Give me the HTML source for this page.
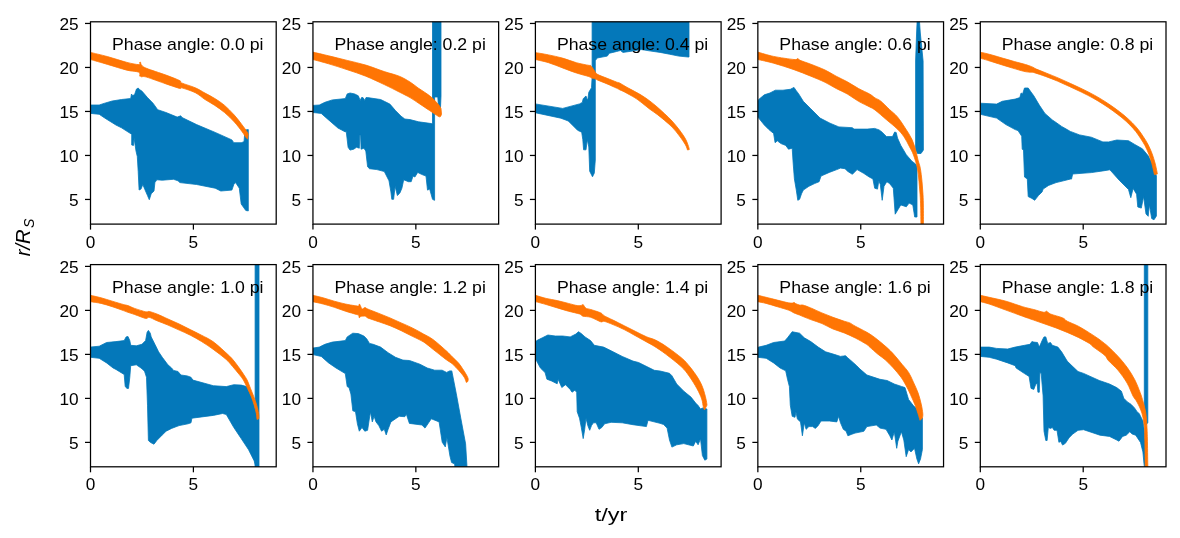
<!DOCTYPE html>
<html><head><meta charset="utf-8"><style>html,body{margin:0;padding:0;background:#fff;width:1180px;height:538px;overflow:hidden;position:relative}</style></head>
<body>
<svg width="1180" height="538" viewBox="0 0 1180 538" style="position:absolute;left:0;top:0;filter:blur(0.35px)">
<rect width="1180" height="538" fill="#fff"/>
<clipPath id="cp0"><rect x="90.50" y="21.80" width="185.70" height="202.30"/></clipPath>
<g clip-path="url(#cp0)">
<polygon points="90.5,105.0 99.2,105.0 104.7,103.2 112.2,101.0 121.5,99.5 130.7,98.5 131.5,94.0 132.5,95.5 134.5,94.8 136.5,89.0 138.2,88.0 139.5,89.5 141.9,91.1 147.5,97.6 153.0,103.2 157.7,109.7 166.0,112.5 177.2,117.1 180.8,115.8 182.0,117.5 196.6,124.6 215.2,132.4 231.9,139.9 233.8,142.7 241.2,142.7 244.0,141.7 245.0,130.0 248.3,129.6 248.3,210.9 245.8,210.5 241.2,204.0 239.3,188.2 235.6,182.6 233.8,184.5 231.9,190.1 220.8,191.0 215.2,188.2 196.6,184.5 179.9,182.6 178.0,180.8 173.5,179.3 162.3,180.2 156.8,179.8 154.9,182.6 154.0,191.0 151.2,193.8 149.3,199.7 147.5,195.6 144.7,189.1 142.8,184.5 141.0,189.1 139.1,190.0 138.2,171.5 137.3,156.6 136.0,151.0 134.1,138.0 133.5,145.4 131.7,145.0 131.7,134.3 121.5,127.8 115.9,125.0 104.7,118.0 99.2,114.3 90.5,113.4" fill="#0478ba" stroke="#0478ba" stroke-width="0.8" stroke-linejoin="round"/>
<path d="M90.50,52.40 C93.33,53.10 101.42,54.93 107.50,56.60 C113.58,58.27 121.78,61.07 127.00,62.40 C132.22,63.73 136.68,64.60 138.80,64.60 C140.92,64.60 139.40,62.77 139.70,62.40 C140.00,62.03 140.30,61.97 140.60,62.40 C140.90,62.83 140.52,64.02 141.50,65.00 C142.48,65.98 142.42,66.62 146.50,68.30 C150.58,69.98 160.47,73.05 166.00,75.10 C171.53,77.15 177.10,79.30 179.70,80.60 C182.30,81.90 179.00,81.70 181.60,82.90 C184.20,84.10 191.40,86.10 195.30,87.80 C199.20,89.50 201.75,91.32 205.00,93.10 C208.25,94.88 211.53,96.45 214.80,98.50 C218.07,100.55 221.35,102.63 224.60,105.40 C227.85,108.17 231.38,111.85 234.30,115.10 C237.22,118.35 239.98,122.13 242.10,124.90 C244.22,127.67 245.98,130.18 247.00,131.70 C248.02,133.22 248.00,133.62 248.20,134.00 L247.50,139.00 C247.25,138.75 246.90,138.72 246.00,137.50 C245.10,136.28 244.05,134.30 242.10,131.70 C240.15,129.10 237.22,125.08 234.30,121.90 C231.38,118.72 227.85,115.35 224.60,112.60 C221.35,109.85 218.07,107.58 214.80,105.40 C211.53,103.22 208.25,101.62 205.00,99.50 C201.75,97.38 199.20,94.65 195.30,92.70 C191.40,90.75 184.20,88.52 181.60,87.80 C179.00,87.08 182.30,89.05 179.70,88.40 C177.10,87.75 171.53,85.78 166.00,83.90 C160.47,82.02 150.58,78.28 146.50,77.10 C142.42,75.92 142.48,76.97 141.50,76.80 C140.52,76.63 140.90,76.22 140.60,76.10 C140.30,75.98 140.00,76.75 139.70,76.10 C139.40,75.45 140.92,73.18 138.80,72.20 C136.68,71.22 132.22,71.50 127.00,70.20 C121.78,68.90 113.58,66.18 107.50,64.40 C101.42,62.62 93.33,60.32 90.50,59.50 Z" fill="#ff7504" stroke="#ff7504" stroke-width="0.8" stroke-linejoin="round"/>
</g>
<rect x="90.50" y="21.80" width="185.70" height="202.30" fill="none" stroke="#000" stroke-width="1.25" stroke-linejoin="miter" stroke-linecap="square"/>
<line x1="85.00" y1="199.45" x2="90.50" y2="199.45" stroke="#000" stroke-width="1.25"/>
<text x="78.60" y="205.75" text-anchor="end" font-size="15.7" font-family='"Liberation Sans", sans-serif' fill="#000" textLength="9.60" lengthAdjust="spacingAndGlyphs">5</text>
<line x1="85.00" y1="155.45" x2="90.50" y2="155.45" stroke="#000" stroke-width="1.25"/>
<text x="78.60" y="161.75" text-anchor="end" font-size="15.7" font-family='"Liberation Sans", sans-serif' fill="#000" textLength="19.20" lengthAdjust="spacingAndGlyphs">10</text>
<line x1="85.00" y1="111.45" x2="90.50" y2="111.45" stroke="#000" stroke-width="1.25"/>
<text x="78.60" y="117.75" text-anchor="end" font-size="15.7" font-family='"Liberation Sans", sans-serif' fill="#000" textLength="19.20" lengthAdjust="spacingAndGlyphs">15</text>
<line x1="85.00" y1="67.45" x2="90.50" y2="67.45" stroke="#000" stroke-width="1.25"/>
<text x="78.60" y="73.75" text-anchor="end" font-size="15.7" font-family='"Liberation Sans", sans-serif' fill="#000" textLength="19.20" lengthAdjust="spacingAndGlyphs">20</text>
<line x1="85.00" y1="23.45" x2="90.50" y2="23.45" stroke="#000" stroke-width="1.25"/>
<text x="78.60" y="29.75" text-anchor="end" font-size="15.7" font-family='"Liberation Sans", sans-serif' fill="#000" textLength="19.20" lengthAdjust="spacingAndGlyphs">25</text>
<line x1="90.50" y1="224.10" x2="90.50" y2="229.60" stroke="#000" stroke-width="1.25"/>
<text x="90.50" y="247.70" text-anchor="middle" font-size="15.7" font-family='"Liberation Sans", sans-serif' fill="#000" textLength="9.6" lengthAdjust="spacingAndGlyphs">0</text>
<line x1="193.40" y1="224.10" x2="193.40" y2="229.60" stroke="#000" stroke-width="1.25"/>
<text x="193.40" y="247.70" text-anchor="middle" font-size="15.7" font-family='"Liberation Sans", sans-serif' fill="#000" textLength="9.6" lengthAdjust="spacingAndGlyphs">5</text>
<text x="112.00" y="49.70" font-size="15.7" font-family='"Liberation Sans", sans-serif' fill="#000" textLength="151.4" lengthAdjust="spacingAndGlyphs">Phase angle: 0.0 pi</text>
<clipPath id="cp1"><rect x="312.95" y="21.80" width="185.70" height="202.30"/></clipPath>
<g clip-path="url(#cp1)">
<polygon points="312.9,105.4 319.3,105.0 324.9,102.3 332.3,99.9 345.3,98.6 347.2,93.9 350.0,93.0 354.6,93.9 358.3,95.8 360.2,100.4 361.5,97.6 363.0,97.6 364.8,100.4 366.0,97.6 367.6,97.6 380.6,99.5 384.3,101.3 389.9,104.1 395.5,110.6 401.1,116.2 404.8,119.0 410.0,119.6 418.6,121.8 431.6,123.6 432.5,123.6 432.5,15.0 441.0,15.0 441.0,96.0 440.5,107.5 438.5,107.5 437.8,97.0 434.6,97.0 434.6,200.3 434.4,200.3 432.5,199.3 429.7,189.1 427.5,190.1 426.0,176.1 421.4,174.3 417.7,172.4 414.9,177.0 413.0,176.1 411.2,181.7 408.4,181.7 403.7,179.8 401.9,188.2 400.0,192.8 399.2,193.8 397.4,195.6 395.1,186.3 393.6,199.3 391.8,199.3 390.9,191.9 389.0,180.8 387.1,177.0 384.3,171.5 376.9,169.6 369.5,168.7 367.6,166.8 365.8,151.0 363.9,148.2 361.1,149.2 360.6,135.2 359.8,135.2 359.3,148.2 356.5,147.3 353.7,149.2 350.0,150.1 348.1,147.3 346.2,131.0 345.5,132.0 337.9,128.0 328.6,119.9 321.2,113.4 312.9,112.5" fill="#0478ba" stroke="#0478ba" stroke-width="0.8" stroke-linejoin="round"/>
<path d="M312.90,52.10 C315.52,52.72 322.88,54.42 328.60,55.80 C334.32,57.18 341.00,58.85 347.20,60.40 C353.40,61.95 359.62,63.23 365.80,65.10 C371.98,66.97 378.73,69.75 384.30,71.60 C389.87,73.45 394.92,74.47 399.20,76.20 C403.48,77.93 406.77,79.98 410.00,82.00 C413.23,84.02 415.32,86.00 418.60,88.30 C421.88,90.60 426.45,93.17 429.70,95.80 C432.95,98.43 436.22,101.98 438.10,104.10 C439.98,106.22 440.52,107.77 441.00,108.50 L441.50,114.00 C441.33,114.42 441.07,116.13 440.50,116.50 C439.93,116.87 439.90,117.18 438.10,116.20 C436.30,115.22 432.95,112.77 429.70,110.60 C426.45,108.43 421.88,105.37 418.60,103.20 C415.32,101.03 413.23,99.47 410.00,97.60 C406.77,95.73 403.48,94.17 399.20,92.00 C394.92,89.83 389.87,87.23 384.30,84.60 C378.73,81.97 371.98,78.68 365.80,76.20 C359.62,73.72 353.40,71.77 347.20,69.70 C341.00,67.63 334.32,65.50 328.60,63.80 C322.88,62.10 315.52,60.22 312.90,59.50 Z" fill="#ff7504" stroke="#ff7504" stroke-width="0.8" stroke-linejoin="round"/>
</g>
<rect x="312.95" y="21.80" width="185.70" height="202.30" fill="none" stroke="#000" stroke-width="1.25" stroke-linejoin="miter" stroke-linecap="square"/>
<line x1="307.45" y1="199.45" x2="312.95" y2="199.45" stroke="#000" stroke-width="1.25"/>
<text x="301.05" y="205.75" text-anchor="end" font-size="15.7" font-family='"Liberation Sans", sans-serif' fill="#000" textLength="9.60" lengthAdjust="spacingAndGlyphs">5</text>
<line x1="307.45" y1="155.45" x2="312.95" y2="155.45" stroke="#000" stroke-width="1.25"/>
<text x="301.05" y="161.75" text-anchor="end" font-size="15.7" font-family='"Liberation Sans", sans-serif' fill="#000" textLength="19.20" lengthAdjust="spacingAndGlyphs">10</text>
<line x1="307.45" y1="111.45" x2="312.95" y2="111.45" stroke="#000" stroke-width="1.25"/>
<text x="301.05" y="117.75" text-anchor="end" font-size="15.7" font-family='"Liberation Sans", sans-serif' fill="#000" textLength="19.20" lengthAdjust="spacingAndGlyphs">15</text>
<line x1="307.45" y1="67.45" x2="312.95" y2="67.45" stroke="#000" stroke-width="1.25"/>
<text x="301.05" y="73.75" text-anchor="end" font-size="15.7" font-family='"Liberation Sans", sans-serif' fill="#000" textLength="19.20" lengthAdjust="spacingAndGlyphs">20</text>
<line x1="307.45" y1="23.45" x2="312.95" y2="23.45" stroke="#000" stroke-width="1.25"/>
<text x="301.05" y="29.75" text-anchor="end" font-size="15.7" font-family='"Liberation Sans", sans-serif' fill="#000" textLength="19.20" lengthAdjust="spacingAndGlyphs">25</text>
<line x1="312.95" y1="224.10" x2="312.95" y2="229.60" stroke="#000" stroke-width="1.25"/>
<text x="312.95" y="247.70" text-anchor="middle" font-size="15.7" font-family='"Liberation Sans", sans-serif' fill="#000" textLength="9.6" lengthAdjust="spacingAndGlyphs">0</text>
<line x1="415.85" y1="224.10" x2="415.85" y2="229.60" stroke="#000" stroke-width="1.25"/>
<text x="415.85" y="247.70" text-anchor="middle" font-size="15.7" font-family='"Liberation Sans", sans-serif' fill="#000" textLength="9.6" lengthAdjust="spacingAndGlyphs">5</text>
<text x="334.45" y="49.70" font-size="15.7" font-family='"Liberation Sans", sans-serif' fill="#000" textLength="151.4" lengthAdjust="spacingAndGlyphs">Phase angle: 0.2 pi</text>
<clipPath id="cp2"><rect x="535.40" y="21.80" width="185.70" height="202.30"/></clipPath>
<g clip-path="url(#cp2)">
<polygon points="535.2,103.9 562.7,108.4 579.5,103.9 582.3,102.4 583.2,98.7 585.0,96.9 586.0,96.0 586.9,98.7 587.8,99.8 588.8,92.3 591.5,87.7 592.1,77.5 592.1,15.0 689.0,15.0 689.0,57.0 688.1,57.0 678.8,56.1 669.5,54.2 660.2,52.4 650.9,51.1 641.6,49.6 632.3,51.1 623.0,52.4 620.4,50.5 616.6,51.5 612.9,52.4 609.2,53.3 607.3,56.1 597.1,58.0 595.3,60.7 595.3,160.0 594.3,173.1 592.5,176.8 589.7,171.2 588.8,147.0 587.3,139.6 586.0,149.8 583.6,149.8 582.8,139.6 581.7,132.2 577.6,130.3 568.3,121.0 560.9,118.2 535.2,112.7" fill="#0478ba" stroke="#0478ba" stroke-width="0.8" stroke-linejoin="round"/>
<path d="M535.20,52.50 C537.43,52.90 544.05,53.97 548.60,54.90 C553.15,55.83 557.87,56.80 562.50,58.10 C567.13,59.40 572.05,61.50 576.40,62.70 C580.75,63.90 586.27,64.87 588.60,65.30 C590.93,65.73 589.67,64.77 590.40,65.30 C591.13,65.83 592.22,67.42 593.00,68.50 C593.78,69.58 594.28,70.78 595.10,71.80 C595.92,72.82 595.90,73.52 597.90,74.60 C599.90,75.68 604.02,77.07 607.10,78.30 C610.18,79.53 614.25,81.18 616.40,82.00 C618.55,82.82 618.40,82.40 620.00,83.20 C621.60,84.00 623.52,85.40 626.00,86.80 C628.48,88.20 632.18,90.10 634.90,91.60 C637.62,93.10 639.82,94.23 642.30,95.80 C644.78,97.37 647.32,99.13 649.80,101.00 C652.28,102.87 654.73,104.88 657.20,107.00 C659.67,109.12 662.12,111.35 664.60,113.70 C667.08,116.05 669.62,118.37 672.10,121.10 C674.58,123.83 677.27,127.12 679.50,130.10 C681.73,133.08 684.00,136.28 685.50,139.00 C687.00,141.72 687.87,144.65 688.50,146.40 C689.13,148.15 689.17,148.98 689.30,149.50 L687.50,150.00 C687.17,149.15 686.83,147.23 685.50,144.90 C684.17,142.57 681.73,138.97 679.50,136.00 C677.27,133.03 674.58,129.70 672.10,127.10 C669.62,124.50 667.08,122.52 664.60,120.40 C662.12,118.28 659.67,116.27 657.20,114.40 C654.73,112.53 652.28,111.07 649.80,109.20 C647.32,107.33 644.78,105.10 642.30,103.20 C639.82,101.30 637.87,99.67 634.90,97.80 C631.93,95.93 626.98,93.32 624.50,92.00 C622.02,90.68 621.35,90.55 620.00,89.90 C618.65,89.25 618.55,89.10 616.40,88.10 C614.25,87.10 610.18,85.22 607.10,83.90 C604.02,82.58 599.90,81.05 597.90,80.20 C595.90,79.35 596.03,79.12 595.10,78.80 C594.17,78.48 593.38,78.68 592.30,78.30 C591.22,77.92 591.25,77.38 588.60,76.50 C585.95,75.62 580.75,74.43 576.40,73.00 C572.05,71.57 567.13,69.62 562.50,67.90 C557.87,66.18 553.15,64.10 548.60,62.70 C544.05,61.30 537.43,60.03 535.20,59.50 Z" fill="#ff7504" stroke="#ff7504" stroke-width="0.8" stroke-linejoin="round"/>
</g>
<rect x="535.40" y="21.80" width="185.70" height="202.30" fill="none" stroke="#000" stroke-width="1.25" stroke-linejoin="miter" stroke-linecap="square"/>
<line x1="529.90" y1="199.45" x2="535.40" y2="199.45" stroke="#000" stroke-width="1.25"/>
<text x="523.50" y="205.75" text-anchor="end" font-size="15.7" font-family='"Liberation Sans", sans-serif' fill="#000" textLength="9.60" lengthAdjust="spacingAndGlyphs">5</text>
<line x1="529.90" y1="155.45" x2="535.40" y2="155.45" stroke="#000" stroke-width="1.25"/>
<text x="523.50" y="161.75" text-anchor="end" font-size="15.7" font-family='"Liberation Sans", sans-serif' fill="#000" textLength="19.20" lengthAdjust="spacingAndGlyphs">10</text>
<line x1="529.90" y1="111.45" x2="535.40" y2="111.45" stroke="#000" stroke-width="1.25"/>
<text x="523.50" y="117.75" text-anchor="end" font-size="15.7" font-family='"Liberation Sans", sans-serif' fill="#000" textLength="19.20" lengthAdjust="spacingAndGlyphs">15</text>
<line x1="529.90" y1="67.45" x2="535.40" y2="67.45" stroke="#000" stroke-width="1.25"/>
<text x="523.50" y="73.75" text-anchor="end" font-size="15.7" font-family='"Liberation Sans", sans-serif' fill="#000" textLength="19.20" lengthAdjust="spacingAndGlyphs">20</text>
<line x1="529.90" y1="23.45" x2="535.40" y2="23.45" stroke="#000" stroke-width="1.25"/>
<text x="523.50" y="29.75" text-anchor="end" font-size="15.7" font-family='"Liberation Sans", sans-serif' fill="#000" textLength="19.20" lengthAdjust="spacingAndGlyphs">25</text>
<line x1="535.40" y1="224.10" x2="535.40" y2="229.60" stroke="#000" stroke-width="1.25"/>
<text x="535.40" y="247.70" text-anchor="middle" font-size="15.7" font-family='"Liberation Sans", sans-serif' fill="#000" textLength="9.6" lengthAdjust="spacingAndGlyphs">0</text>
<line x1="638.30" y1="224.10" x2="638.30" y2="229.60" stroke="#000" stroke-width="1.25"/>
<text x="638.30" y="247.70" text-anchor="middle" font-size="15.7" font-family='"Liberation Sans", sans-serif' fill="#000" textLength="9.6" lengthAdjust="spacingAndGlyphs">5</text>
<text x="556.90" y="49.70" font-size="15.7" font-family='"Liberation Sans", sans-serif' fill="#000" textLength="151.4" lengthAdjust="spacingAndGlyphs">Phase angle: 0.4 pi</text>
<clipPath id="cp3"><rect x="757.85" y="21.80" width="185.70" height="202.30"/></clipPath>
<g clip-path="url(#cp3)">
<polygon points="757.9,101.0 758.7,99.5 764.3,94.8 769.9,93.0 775.4,90.2 782.9,90.2 790.3,89.3 794.0,87.4 795.9,90.2 798.7,93.9 803.3,101.3 810.8,108.8 820.1,118.1 830.0,123.2 838.9,126.9 852.3,127.7 854.0,129.1 867.2,129.1 874.6,128.4 879.1,129.9 882.0,132.1 886.5,136.6 892.5,136.6 894.7,132.0 896.2,132.5 897.5,138.0 900.8,145.4 906.3,154.7 911.9,161.2 915.6,164.0 917.0,166.0 917.0,217.0 914.7,217.0 912.8,204.9 909.1,203.1 906.3,206.8 900.8,204.9 898.0,209.6 895.2,214.2 893.3,188.2 889.6,183.6 886.8,181.7 884.0,186.3 882.2,200.3 880.3,184.5 878.8,180.8 877.5,189.1 874.7,188.2 872.9,178.9 869.2,177.0 863.6,173.3 857.1,169.6 852.4,174.3 847.9,171.5 845.0,168.7 840.5,168.1 836.8,169.6 829.3,172.4 821.0,176.1 819.1,181.7 814.5,183.6 808.9,186.3 803.3,190.1 801.5,193.8 799.6,199.3 797.8,200.3 796.3,190.1 794.4,178.9 793.1,162.2 792.2,148.2 788.5,149.2 785.7,145.4 781.0,143.6 777.3,140.8 775.1,142.7 773.6,133.4 768.9,129.6 764.3,125.0 758.7,118.1 757.9,117.0" fill="#0478ba" stroke="#0478ba" stroke-width="0.8" stroke-linejoin="round"/>
<polygon points="917.1,15.0 919.3,15.0 919.5,21.8 920.3,33.0 923.1,61.0 923.4,150.0 921.0,153.5 917.5,153.5 915.6,150.0 915.6,61.0 916.6,33.0 917.1,21.8" fill="#0478ba" stroke="#0478ba" stroke-width="0.8" stroke-linejoin="round"/>
<path d="M757.85,52.10 C760.48,52.82 767.58,55.17 773.60,56.40 C779.62,57.63 789.97,59.13 794.00,59.50 C798.03,59.87 796.80,58.47 797.80,58.60 C798.80,58.73 797.83,59.37 800.00,60.30 C802.17,61.23 806.63,62.58 810.80,64.20 C814.97,65.82 820.77,68.00 825.00,70.00 C829.23,72.00 832.48,74.23 836.20,76.20 C839.92,78.17 843.58,79.75 847.30,81.80 C851.02,83.85 854.78,86.47 858.50,88.50 C862.22,90.53 866.85,92.43 869.60,94.00 C872.35,95.57 873.17,96.73 875.00,97.90 C876.83,99.07 878.18,99.07 880.60,101.00 C883.02,102.93 886.72,106.88 889.50,109.50 C892.28,112.12 894.70,113.63 897.30,116.70 C899.90,119.77 902.68,124.17 905.10,127.90 C907.52,131.63 910.03,135.38 911.80,139.10 C913.57,142.82 914.67,146.72 915.70,150.20 C916.73,153.68 917.23,157.00 918.00,160.00 C918.77,163.00 919.63,164.63 920.30,168.20 C920.97,171.77 921.55,177.00 922.00,181.40 C922.45,185.80 922.77,190.20 923.00,194.60 C923.23,199.00 923.33,201.90 923.40,207.80 C923.47,213.70 923.40,226.30 923.40,230.00 L921.00,230.00 C920.95,226.30 920.85,213.70 920.70,207.80 C920.55,201.90 920.38,199.00 920.10,194.60 C919.82,190.20 919.45,185.80 919.00,181.40 C918.55,177.00 918.32,172.60 917.40,168.20 C916.48,163.80 914.80,158.55 913.50,155.00 C912.20,151.45 911.18,149.93 909.60,146.90 C908.02,143.87 906.05,139.78 904.00,136.80 C901.95,133.82 900.27,131.88 897.30,129.00 C894.33,126.12 889.92,122.67 886.20,119.50 C882.48,116.33 877.77,112.10 875.00,110.00 C872.23,107.90 872.35,108.35 869.60,106.90 C866.85,105.45 862.22,103.45 858.50,101.30 C854.78,99.15 851.02,96.13 847.30,94.00 C843.58,91.87 839.92,90.45 836.20,88.50 C832.48,86.55 829.23,84.35 825.00,82.30 C820.77,80.25 815.97,78.30 810.80,76.20 C805.63,74.10 800.20,71.87 794.00,69.70 C787.80,67.53 779.62,64.90 773.60,63.20 C767.58,61.50 760.48,60.12 757.85,59.50 Z" fill="#ff7504" stroke="#ff7504" stroke-width="0.8" stroke-linejoin="round"/>
</g>
<rect x="757.85" y="21.80" width="185.70" height="202.30" fill="none" stroke="#000" stroke-width="1.25" stroke-linejoin="miter" stroke-linecap="square"/>
<line x1="752.35" y1="199.45" x2="757.85" y2="199.45" stroke="#000" stroke-width="1.25"/>
<text x="745.95" y="205.75" text-anchor="end" font-size="15.7" font-family='"Liberation Sans", sans-serif' fill="#000" textLength="9.60" lengthAdjust="spacingAndGlyphs">5</text>
<line x1="752.35" y1="155.45" x2="757.85" y2="155.45" stroke="#000" stroke-width="1.25"/>
<text x="745.95" y="161.75" text-anchor="end" font-size="15.7" font-family='"Liberation Sans", sans-serif' fill="#000" textLength="19.20" lengthAdjust="spacingAndGlyphs">10</text>
<line x1="752.35" y1="111.45" x2="757.85" y2="111.45" stroke="#000" stroke-width="1.25"/>
<text x="745.95" y="117.75" text-anchor="end" font-size="15.7" font-family='"Liberation Sans", sans-serif' fill="#000" textLength="19.20" lengthAdjust="spacingAndGlyphs">15</text>
<line x1="752.35" y1="67.45" x2="757.85" y2="67.45" stroke="#000" stroke-width="1.25"/>
<text x="745.95" y="73.75" text-anchor="end" font-size="15.7" font-family='"Liberation Sans", sans-serif' fill="#000" textLength="19.20" lengthAdjust="spacingAndGlyphs">20</text>
<line x1="752.35" y1="23.45" x2="757.85" y2="23.45" stroke="#000" stroke-width="1.25"/>
<text x="745.95" y="29.75" text-anchor="end" font-size="15.7" font-family='"Liberation Sans", sans-serif' fill="#000" textLength="19.20" lengthAdjust="spacingAndGlyphs">25</text>
<line x1="757.85" y1="224.10" x2="757.85" y2="229.60" stroke="#000" stroke-width="1.25"/>
<text x="757.85" y="247.70" text-anchor="middle" font-size="15.7" font-family='"Liberation Sans", sans-serif' fill="#000" textLength="9.6" lengthAdjust="spacingAndGlyphs">0</text>
<line x1="860.75" y1="224.10" x2="860.75" y2="229.60" stroke="#000" stroke-width="1.25"/>
<text x="860.75" y="247.70" text-anchor="middle" font-size="15.7" font-family='"Liberation Sans", sans-serif' fill="#000" textLength="9.6" lengthAdjust="spacingAndGlyphs">5</text>
<text x="779.35" y="49.70" font-size="15.7" font-family='"Liberation Sans", sans-serif' fill="#000" textLength="151.4" lengthAdjust="spacingAndGlyphs">Phase angle: 0.6 pi</text>
<clipPath id="cp4"><rect x="980.30" y="21.80" width="185.70" height="202.30"/></clipPath>
<g clip-path="url(#cp4)">
<polygon points="980.3,103.2 996.6,104.1 1002.2,101.3 1015.2,99.1 1019.8,97.6 1021.1,93.0 1022.6,93.9 1024.5,88.0 1028.2,88.0 1031.0,92.0 1033.8,95.8 1039.3,105.1 1044.9,113.4 1052.3,119.9 1056.1,122.5 1061.6,126.4 1067.2,129.6 1070.3,131.4 1079.6,134.9 1091.3,137.2 1102.9,141.9 1108.7,141.9 1116.8,140.0 1128.5,140.7 1134.3,144.2 1142.4,148.8 1148.2,155.8 1152.9,165.1 1155.9,174.4 1156.4,176.0 1156.4,216.0 1154.0,219.8 1151.7,218.6 1149.4,204.7 1148.2,216.3 1146.0,214.0 1143.6,196.5 1141.3,208.1 1137.8,207.0 1136.6,194.2 1133.1,188.4 1130.8,197.7 1128.5,189.5 1119.2,180.2 1109.9,169.8 1102.9,170.9 1091.3,172.6 1072.7,174.0 1071.5,179.1 1070.9,178.9 1063.5,180.8 1056.1,182.6 1048.6,185.4 1043.1,189.1 1042.1,191.9 1038.4,195.6 1034.7,200.3 1031.9,198.4 1028.2,196.6 1027.3,178.9 1024.5,177.0 1023.5,150.1 1022.2,149.2 1021.7,136.2 1018.0,130.6 1015.2,129.6 1005.9,124.6 996.6,118.1 980.3,114.3" fill="#0478ba" stroke="#0478ba" stroke-width="0.8" stroke-linejoin="round"/>
<path d="M977.37,52.02 C978.28,52.14 980.41,52.22 982.84,52.72 C985.28,53.22 988.59,54.09 991.99,55.03 C995.40,55.96 999.53,57.26 1003.25,58.34 C1006.97,59.42 1010.63,60.50 1014.34,61.53 C1018.05,62.56 1022.74,63.71 1025.51,64.52 C1028.27,65.33 1029.63,65.92 1030.91,66.39 C1032.19,66.85 1032.25,66.86 1033.17,67.32 C1034.08,67.77 1034.15,68.14 1036.39,69.12 C1038.63,70.11 1042.91,71.71 1046.61,73.21 C1050.32,74.71 1054.62,76.41 1058.63,78.13 C1062.63,79.85 1066.65,81.71 1070.67,83.55 C1074.68,85.38 1078.69,87.19 1082.71,89.16 C1086.72,91.14 1091.08,93.35 1094.78,95.40 C1098.47,97.45 1101.50,99.30 1104.86,101.45 C1108.22,103.60 1111.74,106.00 1114.94,108.30 C1118.13,110.61 1121.16,112.88 1124.03,115.27 C1126.89,117.67 1129.76,120.30 1132.13,122.67 C1134.50,125.04 1136.38,127.16 1138.25,129.50 C1140.12,131.85 1141.73,134.26 1143.34,136.72 C1144.95,139.18 1146.48,141.48 1147.92,144.26 C1149.36,147.05 1150.81,150.30 1152.00,153.43 C1153.18,156.57 1154.25,160.20 1155.04,163.07 C1155.84,165.94 1156.37,168.83 1156.76,170.65 C1157.15,172.47 1157.27,173.43 1157.37,173.99 L1154.43,174.61 C1154.30,174.07 1154.05,173.13 1153.64,171.35 C1153.23,169.57 1152.73,166.72 1151.96,163.93 C1151.19,161.13 1150.15,157.60 1149.00,154.57 C1147.86,151.53 1146.47,148.42 1145.08,145.74 C1143.69,143.05 1142.22,140.85 1140.66,138.48 C1139.11,136.10 1137.55,133.75 1135.75,131.50 C1133.95,129.24 1132.16,127.23 1129.87,124.93 C1127.57,122.64 1124.78,120.07 1121.97,117.73 C1119.17,115.39 1116.20,113.16 1113.06,110.90 C1109.92,108.63 1106.44,106.26 1103.14,104.15 C1099.83,102.03 1096.86,100.22 1093.22,98.20 C1089.58,96.18 1085.28,93.99 1081.29,92.04 C1077.31,90.08 1073.32,88.28 1069.33,86.45 C1065.35,84.63 1061.37,82.75 1057.37,81.07 C1053.38,79.39 1049.12,77.75 1045.39,76.39 C1041.66,75.02 1037.30,73.56 1035.01,72.88 C1032.72,72.19 1032.55,72.39 1031.63,72.28 C1030.71,72.17 1030.81,72.38 1029.49,72.21 C1028.17,72.05 1026.53,71.97 1023.69,71.28 C1020.86,70.59 1016.19,69.17 1012.46,68.07 C1008.74,66.96 1005.06,65.81 1001.35,64.66 C997.64,63.51 993.50,62.19 990.21,61.17 C986.91,60.16 983.82,59.11 981.56,58.58 C979.29,58.05 977.45,58.08 976.63,57.98 Z" fill="#ff7504" stroke="#ff7504" stroke-width="0.8" stroke-linejoin="round"/>
</g>
<rect x="980.30" y="21.80" width="185.70" height="202.30" fill="none" stroke="#000" stroke-width="1.25" stroke-linejoin="miter" stroke-linecap="square"/>
<line x1="974.80" y1="199.45" x2="980.30" y2="199.45" stroke="#000" stroke-width="1.25"/>
<text x="968.40" y="205.75" text-anchor="end" font-size="15.7" font-family='"Liberation Sans", sans-serif' fill="#000" textLength="9.60" lengthAdjust="spacingAndGlyphs">5</text>
<line x1="974.80" y1="155.45" x2="980.30" y2="155.45" stroke="#000" stroke-width="1.25"/>
<text x="968.40" y="161.75" text-anchor="end" font-size="15.7" font-family='"Liberation Sans", sans-serif' fill="#000" textLength="19.20" lengthAdjust="spacingAndGlyphs">10</text>
<line x1="974.80" y1="111.45" x2="980.30" y2="111.45" stroke="#000" stroke-width="1.25"/>
<text x="968.40" y="117.75" text-anchor="end" font-size="15.7" font-family='"Liberation Sans", sans-serif' fill="#000" textLength="19.20" lengthAdjust="spacingAndGlyphs">15</text>
<line x1="974.80" y1="67.45" x2="980.30" y2="67.45" stroke="#000" stroke-width="1.25"/>
<text x="968.40" y="73.75" text-anchor="end" font-size="15.7" font-family='"Liberation Sans", sans-serif' fill="#000" textLength="19.20" lengthAdjust="spacingAndGlyphs">20</text>
<line x1="974.80" y1="23.45" x2="980.30" y2="23.45" stroke="#000" stroke-width="1.25"/>
<text x="968.40" y="29.75" text-anchor="end" font-size="15.7" font-family='"Liberation Sans", sans-serif' fill="#000" textLength="19.20" lengthAdjust="spacingAndGlyphs">25</text>
<line x1="980.30" y1="224.10" x2="980.30" y2="229.60" stroke="#000" stroke-width="1.25"/>
<text x="980.30" y="247.70" text-anchor="middle" font-size="15.7" font-family='"Liberation Sans", sans-serif' fill="#000" textLength="9.6" lengthAdjust="spacingAndGlyphs">0</text>
<line x1="1083.20" y1="224.10" x2="1083.20" y2="229.60" stroke="#000" stroke-width="1.25"/>
<text x="1083.20" y="247.70" text-anchor="middle" font-size="15.7" font-family='"Liberation Sans", sans-serif' fill="#000" textLength="9.6" lengthAdjust="spacingAndGlyphs">5</text>
<text x="1001.80" y="49.70" font-size="15.7" font-family='"Liberation Sans", sans-serif' fill="#000" textLength="151.4" lengthAdjust="spacingAndGlyphs">Phase angle: 0.8 pi</text>
<clipPath id="cp5"><rect x="90.50" y="264.60" width="185.70" height="202.20"/></clipPath>
<g clip-path="url(#cp5)">
<polygon points="90.5,347.1 99.2,346.2 106.6,342.5 115.9,341.6 124.2,340.6 126.1,336.9 128.0,336.5 129.8,340.6 130.7,345.3 136.3,345.8 141.9,344.3 145.6,340.6 147.1,332.3 148.4,330.4 150.3,333.2 151.2,336.9 154.9,344.3 158.6,351.8 162.3,357.3 167.9,364.8 171.6,368.0 173.5,370.4 178.0,371.5 180.9,375.0 187.3,375.9 191.0,377.3 192.9,380.1 213.3,385.7 226.3,386.6 233.8,384.7 241.2,385.1 246.8,386.6 249.6,390.3 252.3,397.7 255.1,408.9 255.7,410.0 255.7,466.5 254.2,460.9 248.6,449.8 241.2,438.6 233.8,427.5 226.3,414.5 222.6,413.5 213.3,415.4 191.9,418.2 191.0,422.8 188.0,423.8 179.1,425.6 171.6,428.4 166.1,431.2 162.3,434.9 156.8,440.5 154.0,444.2 152.1,443.3 150.3,442.3 148.4,440.5 147.5,405.2 146.5,377.3 144.7,371.7 143.8,370.4 141.0,368.0 136.3,364.8 130.7,365.7 129.8,377.3 128.5,388.4 127.0,388.4 125.2,386.6 124.2,374.5 119.6,371.7 115.9,369.4 113.1,368.0 106.6,362.9 99.2,358.3 90.5,357.3" fill="#0478ba" stroke="#0478ba" stroke-width="0.8" stroke-linejoin="round"/>
<polygon points="255.1,260.0 259.0,260.0 259.0,470.0 255.1,470.0" fill="#0478ba" stroke="#0478ba" stroke-width="0.8" stroke-linejoin="round"/>
<path d="M90.50,295.30 C92.27,295.72 97.47,296.82 101.10,297.80 C104.73,298.78 108.58,300.08 112.30,301.20 C116.02,302.32 120.80,303.77 123.40,304.50 C126.00,305.23 126.03,304.95 127.90,305.60 C129.77,306.25 131.63,307.37 134.60,308.40 C137.57,309.43 143.28,311.28 145.70,311.80 C148.12,312.32 147.23,311.13 149.10,311.50 C150.97,311.87 153.75,312.75 156.90,314.00 C160.05,315.25 164.28,317.33 168.00,319.00 C171.72,320.67 175.48,322.23 179.20,324.00 C182.92,325.77 186.58,327.73 190.30,329.60 C194.02,331.47 197.72,333.20 201.50,335.20 C205.28,337.20 208.92,338.67 213.00,341.60 C217.08,344.53 222.73,349.85 226.00,352.80 C229.27,355.75 230.42,356.80 232.60,359.30 C234.78,361.80 237.20,365.18 239.10,367.80 C241.00,370.42 242.67,372.97 244.00,375.00 C245.33,377.03 246.02,377.77 247.10,380.00 C248.18,382.23 249.38,385.62 250.50,388.40 C251.62,391.18 252.77,393.92 253.80,396.70 C254.83,399.48 255.90,402.32 256.70,405.10 C257.50,407.88 258.22,411.17 258.60,413.40 C258.98,415.63 258.93,417.65 259.00,418.50 L257.00,419.50 C256.88,418.48 256.77,415.80 256.30,413.40 C255.83,411.00 255.03,407.88 254.20,405.10 C253.37,402.32 252.42,399.48 251.30,396.70 C250.18,393.92 248.82,391.18 247.50,388.40 C246.18,385.62 244.80,382.35 243.40,380.00 C242.00,377.65 240.90,376.55 239.10,374.30 C237.30,372.05 234.78,369.00 232.60,366.50 C230.42,364.00 229.27,362.18 226.00,359.30 C222.73,356.42 217.08,352.17 213.00,349.20 C208.92,346.23 205.28,343.83 201.50,341.50 C197.72,339.17 194.02,337.10 190.30,335.20 C186.58,333.30 182.92,331.78 179.20,330.10 C175.48,328.42 171.72,326.67 168.00,325.10 C164.28,323.53 160.05,322.00 156.90,320.70 C153.75,319.40 150.97,317.68 149.10,317.30 C147.23,316.92 148.12,318.87 145.70,318.40 C143.28,317.93 137.57,315.52 134.60,314.50 C131.63,313.48 129.77,312.95 127.90,312.30 C126.03,311.65 126.00,311.53 123.40,310.60 C120.80,309.67 116.02,307.90 112.30,306.70 C108.58,305.50 104.73,304.23 101.10,303.40 C97.47,302.57 92.27,301.98 90.50,301.70 Z" fill="#ff7504" stroke="#ff7504" stroke-width="0.8" stroke-linejoin="round"/>
</g>
<rect x="90.50" y="264.60" width="185.70" height="202.20" fill="none" stroke="#000" stroke-width="1.25" stroke-linejoin="miter" stroke-linecap="square"/>
<line x1="85.00" y1="442.40" x2="90.50" y2="442.40" stroke="#000" stroke-width="1.25"/>
<text x="78.60" y="448.70" text-anchor="end" font-size="15.7" font-family='"Liberation Sans", sans-serif' fill="#000" textLength="9.60" lengthAdjust="spacingAndGlyphs">5</text>
<line x1="85.00" y1="398.40" x2="90.50" y2="398.40" stroke="#000" stroke-width="1.25"/>
<text x="78.60" y="404.70" text-anchor="end" font-size="15.7" font-family='"Liberation Sans", sans-serif' fill="#000" textLength="19.20" lengthAdjust="spacingAndGlyphs">10</text>
<line x1="85.00" y1="354.40" x2="90.50" y2="354.40" stroke="#000" stroke-width="1.25"/>
<text x="78.60" y="360.70" text-anchor="end" font-size="15.7" font-family='"Liberation Sans", sans-serif' fill="#000" textLength="19.20" lengthAdjust="spacingAndGlyphs">15</text>
<line x1="85.00" y1="310.40" x2="90.50" y2="310.40" stroke="#000" stroke-width="1.25"/>
<text x="78.60" y="316.70" text-anchor="end" font-size="15.7" font-family='"Liberation Sans", sans-serif' fill="#000" textLength="19.20" lengthAdjust="spacingAndGlyphs">20</text>
<line x1="85.00" y1="266.40" x2="90.50" y2="266.40" stroke="#000" stroke-width="1.25"/>
<text x="78.60" y="272.70" text-anchor="end" font-size="15.7" font-family='"Liberation Sans", sans-serif' fill="#000" textLength="19.20" lengthAdjust="spacingAndGlyphs">25</text>
<line x1="90.50" y1="466.80" x2="90.50" y2="472.30" stroke="#000" stroke-width="1.25"/>
<text x="90.50" y="490.40" text-anchor="middle" font-size="15.7" font-family='"Liberation Sans", sans-serif' fill="#000" textLength="9.6" lengthAdjust="spacingAndGlyphs">0</text>
<line x1="193.40" y1="466.80" x2="193.40" y2="472.30" stroke="#000" stroke-width="1.25"/>
<text x="193.40" y="490.40" text-anchor="middle" font-size="15.7" font-family='"Liberation Sans", sans-serif' fill="#000" textLength="9.6" lengthAdjust="spacingAndGlyphs">5</text>
<text x="112.00" y="292.50" font-size="15.7" font-family='"Liberation Sans", sans-serif' fill="#000" textLength="151.4" lengthAdjust="spacingAndGlyphs">Phase angle: 1.0 pi</text>
<clipPath id="cp6"><rect x="312.95" y="264.60" width="185.70" height="202.20"/></clipPath>
<g clip-path="url(#cp6)">
<polygon points="312.9,348.1 319.3,347.1 324.9,344.3 332.3,342.1 345.3,340.6 347.2,336.9 352.8,333.2 358.3,333.6 363.9,336.0 366.7,338.8 369.5,343.4 373.2,344.3 380.6,347.1 388.1,352.7 395.5,357.3 402.9,360.1 409.5,360.5 419.9,364.2 427.3,368.0 434.7,370.2 442.1,370.2 446.6,372.4 449.6,370.9 451.8,370.9 456.3,393.8 460.9,418.8 465.6,443.8 467.2,470.0 455.0,470.0 454.7,464.0 451.6,462.5 450.0,456.3 446.9,437.5 445.3,446.9 442.2,442.2 439.1,421.9 431.3,418.8 425.0,428.1 421.9,425.0 409.4,423.4 406.3,414.1 404.8,416.7 399.2,416.3 396.4,418.2 390.9,421.9 388.1,429.3 386.2,434.9 384.3,429.3 381.6,431.2 378.8,425.6 376.0,421.9 374.1,416.3 372.3,421.9 370.4,411.7 367.6,430.3 364.8,431.2 362.0,427.5 359.3,431.2 357.4,423.8 355.5,411.7 352.8,410.8 350.9,394.0 349.0,387.5 347.2,386.6 345.3,373.6 336.0,368.0 328.6,362.9 321.2,356.4 312.9,354.6" fill="#0478ba" stroke="#0478ba" stroke-width="0.8" stroke-linejoin="round"/>
<path d="M312.95,295.30 C314.64,295.72 319.54,296.82 323.10,297.80 C326.66,298.78 330.58,300.17 334.30,301.20 C338.02,302.23 342.05,303.27 345.40,304.00 C348.75,304.73 352.22,305.27 354.40,305.60 C356.58,305.93 357.67,306.27 358.50,306.00 C359.33,305.73 359.07,304.00 359.40,304.00 C359.73,304.00 360.03,305.17 360.50,306.00 C360.97,306.83 361.45,308.75 362.20,309.00 C362.95,309.25 364.08,307.50 365.00,307.50 C365.92,307.50 365.38,308.02 367.70,309.00 C370.02,309.98 375.18,311.92 378.90,313.40 C382.62,314.88 386.28,316.32 390.00,317.90 C393.72,319.48 397.48,321.23 401.20,322.90 C404.92,324.57 408.58,326.05 412.30,327.90 C416.02,329.75 420.05,332.07 423.50,334.00 C426.95,335.93 429.25,336.73 433.00,339.50 C436.75,342.27 442.75,347.67 446.00,350.60 C449.25,353.53 450.33,354.93 452.50,357.10 C454.67,359.27 456.83,360.90 459.00,363.60 C461.17,366.30 463.98,370.82 465.50,373.30 C467.02,375.78 467.72,377.13 468.10,378.50 C468.48,379.87 467.85,381.00 467.80,381.50 L466.30,382.40 C465.95,381.53 465.42,379.15 464.20,377.20 C462.98,375.25 460.95,372.90 459.00,370.70 C457.05,368.50 454.67,365.87 452.50,364.00 C450.33,362.13 449.25,361.95 446.00,359.50 C442.75,357.05 436.75,352.23 433.00,349.30 C429.25,346.37 426.95,344.07 423.50,341.90 C420.05,339.73 416.02,338.17 412.30,336.30 C408.58,334.43 404.92,332.47 401.20,330.70 C397.48,328.93 393.72,327.18 390.00,325.70 C386.28,324.22 382.62,323.10 378.90,321.80 C375.18,320.50 369.93,318.83 367.70,317.90 C365.47,316.97 366.70,316.43 365.50,316.20 C364.30,315.97 361.52,316.22 360.50,316.50 C359.48,316.78 359.73,318.15 359.40,317.90 C359.07,317.65 358.97,315.57 358.50,315.00 C358.03,314.43 358.78,315.13 356.60,314.50 C354.42,313.87 349.12,312.40 345.40,311.20 C341.68,310.00 338.02,308.50 334.30,307.30 C330.58,306.10 326.66,304.93 323.10,304.00 C319.54,303.07 314.64,302.08 312.95,301.70 Z" fill="#ff7504" stroke="#ff7504" stroke-width="0.8" stroke-linejoin="round"/>
</g>
<rect x="312.95" y="264.60" width="185.70" height="202.20" fill="none" stroke="#000" stroke-width="1.25" stroke-linejoin="miter" stroke-linecap="square"/>
<line x1="307.45" y1="442.40" x2="312.95" y2="442.40" stroke="#000" stroke-width="1.25"/>
<text x="301.05" y="448.70" text-anchor="end" font-size="15.7" font-family='"Liberation Sans", sans-serif' fill="#000" textLength="9.60" lengthAdjust="spacingAndGlyphs">5</text>
<line x1="307.45" y1="398.40" x2="312.95" y2="398.40" stroke="#000" stroke-width="1.25"/>
<text x="301.05" y="404.70" text-anchor="end" font-size="15.7" font-family='"Liberation Sans", sans-serif' fill="#000" textLength="19.20" lengthAdjust="spacingAndGlyphs">10</text>
<line x1="307.45" y1="354.40" x2="312.95" y2="354.40" stroke="#000" stroke-width="1.25"/>
<text x="301.05" y="360.70" text-anchor="end" font-size="15.7" font-family='"Liberation Sans", sans-serif' fill="#000" textLength="19.20" lengthAdjust="spacingAndGlyphs">15</text>
<line x1="307.45" y1="310.40" x2="312.95" y2="310.40" stroke="#000" stroke-width="1.25"/>
<text x="301.05" y="316.70" text-anchor="end" font-size="15.7" font-family='"Liberation Sans", sans-serif' fill="#000" textLength="19.20" lengthAdjust="spacingAndGlyphs">20</text>
<line x1="307.45" y1="266.40" x2="312.95" y2="266.40" stroke="#000" stroke-width="1.25"/>
<text x="301.05" y="272.70" text-anchor="end" font-size="15.7" font-family='"Liberation Sans", sans-serif' fill="#000" textLength="19.20" lengthAdjust="spacingAndGlyphs">25</text>
<line x1="312.95" y1="466.80" x2="312.95" y2="472.30" stroke="#000" stroke-width="1.25"/>
<text x="312.95" y="490.40" text-anchor="middle" font-size="15.7" font-family='"Liberation Sans", sans-serif' fill="#000" textLength="9.6" lengthAdjust="spacingAndGlyphs">0</text>
<line x1="415.85" y1="466.80" x2="415.85" y2="472.30" stroke="#000" stroke-width="1.25"/>
<text x="415.85" y="490.40" text-anchor="middle" font-size="15.7" font-family='"Liberation Sans", sans-serif' fill="#000" textLength="9.6" lengthAdjust="spacingAndGlyphs">5</text>
<text x="334.45" y="292.50" font-size="15.7" font-family='"Liberation Sans", sans-serif' fill="#000" textLength="151.4" lengthAdjust="spacingAndGlyphs">Phase angle: 1.2 pi</text>
<clipPath id="cp7"><rect x="535.40" y="264.60" width="185.70" height="202.20"/></clipPath>
<g clip-path="url(#cp7)">
<polygon points="535.4,342.0 536.7,340.6 542.3,337.8 547.9,335.0 555.3,336.0 562.7,336.0 570.2,336.9 575.8,334.1 578.5,331.7 581.3,333.6 585.0,336.9 590.6,340.6 594.3,345.3 603.6,347.1 611.1,350.8 622.2,356.4 633.0,361.1 638.6,362.5 654.3,370.3 660.0,371.0 669.5,373.3 671.9,375.7 676.7,384.0 683.8,391.2 691.0,397.1 695.7,403.1 698.1,405.5 700.5,409.0 702.9,407.9 706.9,409.0 706.9,459.0 704.8,460.2 702.4,455.5 700.5,438.8 698.1,444.8 695.7,441.2 693.3,446.0 683.8,443.6 676.7,444.8 671.9,447.1 669.5,440.0 667.1,428.1 663.6,424.5 660.0,423.3 648.0,420.3 646.4,426.6 633.0,424.7 622.2,422.8 611.1,422.3 604.6,423.8 601.8,427.5 599.0,429.3 596.2,422.8 593.4,422.8 591.5,425.6 589.7,430.3 587.8,425.6 586.0,418.2 584.7,429.3 583.2,438.6 581.3,427.5 579.5,418.2 577.2,411.7 576.7,392.2 574.8,390.3 572.0,392.2 570.2,389.4 565.5,384.7 561.8,387.5 558.1,379.2 557.2,383.8 551.6,381.0 546.9,379.2 545.1,372.6 540.4,368.0 536.7,361.1 535.4,359.0" fill="#0478ba" stroke="#0478ba" stroke-width="0.8" stroke-linejoin="round"/>
<path d="M535.40,295.30 C537.18,295.82 542.45,297.52 546.10,298.40 C549.75,299.28 553.58,299.77 557.30,300.60 C561.02,301.43 565.05,302.57 568.40,303.40 C571.75,304.23 575.13,305.30 577.40,305.60 C579.67,305.90 581.07,305.38 582.00,305.20 C582.93,305.02 582.58,304.28 583.00,304.50 C583.42,304.72 583.95,305.85 584.50,306.50 C585.05,307.15 585.27,307.90 586.30,308.40 C587.33,308.90 588.28,308.75 590.70,309.50 C593.12,310.25 598.57,311.87 600.80,312.90 C603.03,313.93 602.07,314.50 604.10,315.70 C606.13,316.90 609.65,318.43 613.00,320.10 C616.35,321.77 620.48,323.83 624.20,325.70 C627.92,327.57 631.58,329.45 635.30,331.30 C639.02,333.15 643.13,335.33 646.50,336.80 C649.87,338.27 652.20,338.48 655.50,340.10 C658.80,341.72 661.87,343.45 666.30,346.50 C670.73,349.55 678.13,354.97 682.10,358.40 C686.07,361.83 687.45,363.82 690.10,367.10 C692.75,370.38 695.90,374.68 698.00,378.10 C700.10,381.52 701.38,384.17 702.70,387.60 C704.02,391.03 705.18,395.78 705.90,398.70 C706.62,401.62 706.82,404.03 707.00,405.10 L704.50,409.90 C704.30,409.38 703.77,408.63 703.30,406.80 C702.83,404.97 702.75,401.92 701.70,398.90 C700.65,395.88 699.10,392.52 697.00,388.70 C694.90,384.88 691.75,379.70 689.10,376.00 C686.45,372.30 685.07,370.20 681.10,366.50 C677.13,362.80 669.73,357.15 665.30,353.80 C660.87,350.45 657.63,348.38 654.50,346.40 C651.37,344.42 649.70,343.68 646.50,341.90 C643.30,340.12 639.02,337.75 635.30,335.70 C631.58,333.65 627.92,331.45 624.20,329.60 C620.48,327.75 616.35,325.98 613.00,324.60 C609.65,323.22 606.13,321.77 604.10,321.30 C602.07,320.83 603.03,322.47 600.80,321.80 C598.57,321.13 593.67,318.23 590.70,317.30 C587.73,316.37 584.85,316.75 583.00,316.20 C581.15,315.65 582.03,314.83 579.60,314.00 C577.17,313.17 572.12,312.22 568.40,311.20 C564.68,310.18 561.02,309.02 557.30,307.90 C553.58,306.78 549.75,305.55 546.10,304.50 C542.45,303.45 537.18,302.08 535.40,301.60 Z" fill="#ff7504" stroke="#ff7504" stroke-width="0.8" stroke-linejoin="round"/>
</g>
<rect x="535.40" y="264.60" width="185.70" height="202.20" fill="none" stroke="#000" stroke-width="1.25" stroke-linejoin="miter" stroke-linecap="square"/>
<line x1="529.90" y1="442.40" x2="535.40" y2="442.40" stroke="#000" stroke-width="1.25"/>
<text x="523.50" y="448.70" text-anchor="end" font-size="15.7" font-family='"Liberation Sans", sans-serif' fill="#000" textLength="9.60" lengthAdjust="spacingAndGlyphs">5</text>
<line x1="529.90" y1="398.40" x2="535.40" y2="398.40" stroke="#000" stroke-width="1.25"/>
<text x="523.50" y="404.70" text-anchor="end" font-size="15.7" font-family='"Liberation Sans", sans-serif' fill="#000" textLength="19.20" lengthAdjust="spacingAndGlyphs">10</text>
<line x1="529.90" y1="354.40" x2="535.40" y2="354.40" stroke="#000" stroke-width="1.25"/>
<text x="523.50" y="360.70" text-anchor="end" font-size="15.7" font-family='"Liberation Sans", sans-serif' fill="#000" textLength="19.20" lengthAdjust="spacingAndGlyphs">15</text>
<line x1="529.90" y1="310.40" x2="535.40" y2="310.40" stroke="#000" stroke-width="1.25"/>
<text x="523.50" y="316.70" text-anchor="end" font-size="15.7" font-family='"Liberation Sans", sans-serif' fill="#000" textLength="19.20" lengthAdjust="spacingAndGlyphs">20</text>
<line x1="529.90" y1="266.40" x2="535.40" y2="266.40" stroke="#000" stroke-width="1.25"/>
<text x="523.50" y="272.70" text-anchor="end" font-size="15.7" font-family='"Liberation Sans", sans-serif' fill="#000" textLength="19.20" lengthAdjust="spacingAndGlyphs">25</text>
<line x1="535.40" y1="466.80" x2="535.40" y2="472.30" stroke="#000" stroke-width="1.25"/>
<text x="535.40" y="490.40" text-anchor="middle" font-size="15.7" font-family='"Liberation Sans", sans-serif' fill="#000" textLength="9.6" lengthAdjust="spacingAndGlyphs">0</text>
<line x1="638.30" y1="466.80" x2="638.30" y2="472.30" stroke="#000" stroke-width="1.25"/>
<text x="638.30" y="490.40" text-anchor="middle" font-size="15.7" font-family='"Liberation Sans", sans-serif' fill="#000" textLength="9.6" lengthAdjust="spacingAndGlyphs">5</text>
<text x="556.90" y="292.50" font-size="15.7" font-family='"Liberation Sans", sans-serif' fill="#000" textLength="151.4" lengthAdjust="spacingAndGlyphs">Phase angle: 1.4 pi</text>
<clipPath id="cp8"><rect x="757.85" y="264.60" width="185.70" height="202.20"/></clipPath>
<g clip-path="url(#cp8)">
<polygon points="757.9,347.5 758.7,347.1 766.2,345.3 773.6,342.5 784.7,341.0 787.5,337.8 792.2,331.7 795.0,332.3 799.6,333.2 804.3,337.8 810.8,341.6 818.2,347.1 825.6,351.8 834.9,354.6 840.5,356.4 843.5,356.0 845.6,355.7 847.8,357.9 851.1,360.7 856.7,365.7 860.0,369.1 866.9,375.0 876.3,378.1 880.0,379.3 887.1,380.5 894.3,384.0 901.4,386.4 905.0,387.6 908.6,399.5 913.3,405.5 916.9,409.0 920.5,416.2 922.4,418.0 922.4,449.5 920.5,459.0 918.6,463.8 916.9,459.0 914.5,448.3 911.0,451.9 908.6,449.5 906.2,456.7 903.8,440.0 901.4,431.7 897.9,441.2 896.7,448.3 894.3,431.7 891.9,440.0 889.5,435.2 886.0,429.3 880.0,428.1 876.3,425.0 866.9,426.6 863.8,431.3 855.0,433.1 851.3,434.4 847.9,435.8 846.1,431.2 843.3,429.3 840.5,422.8 838.6,416.3 836.8,421.9 829.3,421.0 821.0,421.0 818.2,425.6 815.4,428.4 812.6,426.6 808.9,426.6 806.1,429.3 804.3,422.8 802.4,435.8 800.5,421.9 797.4,419.1 795.9,411.7 795.0,417.3 792.2,416.3 790.3,405.2 789.4,386.6 787.5,379.2 785.7,370.8 780.1,368.0 773.6,362.9 766.2,358.3 757.9,357.3" fill="#0478ba" stroke="#0478ba" stroke-width="0.8" stroke-linejoin="round"/>
<path d="M757.85,295.30 C759.23,295.63 762.86,296.50 766.10,297.30 C769.34,298.10 773.58,299.18 777.30,300.10 C781.02,301.02 785.78,302.32 788.40,302.80 C791.02,303.28 792.07,303.08 793.00,303.00 C793.93,302.92 793.58,302.22 794.00,302.30 C794.42,302.38 794.57,303.03 795.50,303.50 C796.43,303.97 798.35,304.83 799.60,305.10 C800.85,305.37 801.15,304.63 803.00,305.10 C804.85,305.57 807.55,306.60 810.70,307.90 C813.85,309.20 818.18,311.33 821.90,312.90 C825.62,314.47 829.28,315.92 833.00,317.30 C836.72,318.68 841.40,320.27 844.20,321.20 C847.00,322.13 847.95,322.07 849.80,322.90 C851.65,323.73 852.52,324.67 855.30,326.20 C858.08,327.73 863.22,330.18 866.50,332.10 C869.78,334.02 871.68,335.20 875.00,337.70 C878.32,340.20 883.18,344.22 886.40,347.10 C889.62,349.98 891.67,352.10 894.30,355.00 C896.93,357.90 899.82,361.60 902.20,364.50 C904.58,367.40 906.75,369.50 908.60,372.40 C910.45,375.30 911.72,378.47 913.30,381.90 C914.88,385.33 916.78,389.30 918.10,393.00 C919.42,396.70 920.42,400.67 921.20,404.10 C921.98,407.53 922.60,411.25 922.80,413.60 C923.00,415.95 922.47,417.43 922.40,418.20 L919.90,420.30 C919.67,419.45 919.27,417.63 918.50,415.20 C917.73,412.77 916.63,409.13 915.30,405.70 C913.97,402.27 912.08,398.03 910.50,394.60 C908.92,391.17 907.38,388.00 905.80,385.10 C904.22,382.20 903.12,380.10 901.00,377.20 C898.88,374.30 895.73,370.60 893.10,367.70 C890.47,364.80 887.73,362.05 885.20,359.80 C882.67,357.55 880.43,356.28 877.90,354.20 C875.37,352.12 871.90,348.95 870.00,347.30 C868.10,345.65 868.95,345.85 866.50,344.30 C864.05,342.75 859.02,339.90 855.30,338.00 C851.58,336.10 847.92,334.40 844.20,332.90 C840.48,331.40 836.72,330.57 833.00,329.00 C829.28,327.43 825.62,325.07 821.90,323.50 C818.18,321.93 814.42,321.00 810.70,319.60 C806.98,318.20 802.38,316.22 799.60,315.10 C796.82,313.98 795.87,313.73 794.00,312.90 C792.13,312.07 791.18,311.13 788.40,310.10 C785.62,309.07 781.02,307.82 777.30,306.70 C773.58,305.58 769.34,304.23 766.10,303.40 C762.86,302.57 759.23,301.98 757.85,301.70 Z" fill="#ff7504" stroke="#ff7504" stroke-width="0.8" stroke-linejoin="round"/>
</g>
<rect x="757.85" y="264.60" width="185.70" height="202.20" fill="none" stroke="#000" stroke-width="1.25" stroke-linejoin="miter" stroke-linecap="square"/>
<line x1="752.35" y1="442.40" x2="757.85" y2="442.40" stroke="#000" stroke-width="1.25"/>
<text x="745.95" y="448.70" text-anchor="end" font-size="15.7" font-family='"Liberation Sans", sans-serif' fill="#000" textLength="9.60" lengthAdjust="spacingAndGlyphs">5</text>
<line x1="752.35" y1="398.40" x2="757.85" y2="398.40" stroke="#000" stroke-width="1.25"/>
<text x="745.95" y="404.70" text-anchor="end" font-size="15.7" font-family='"Liberation Sans", sans-serif' fill="#000" textLength="19.20" lengthAdjust="spacingAndGlyphs">10</text>
<line x1="752.35" y1="354.40" x2="757.85" y2="354.40" stroke="#000" stroke-width="1.25"/>
<text x="745.95" y="360.70" text-anchor="end" font-size="15.7" font-family='"Liberation Sans", sans-serif' fill="#000" textLength="19.20" lengthAdjust="spacingAndGlyphs">15</text>
<line x1="752.35" y1="310.40" x2="757.85" y2="310.40" stroke="#000" stroke-width="1.25"/>
<text x="745.95" y="316.70" text-anchor="end" font-size="15.7" font-family='"Liberation Sans", sans-serif' fill="#000" textLength="19.20" lengthAdjust="spacingAndGlyphs">20</text>
<line x1="752.35" y1="266.40" x2="757.85" y2="266.40" stroke="#000" stroke-width="1.25"/>
<text x="745.95" y="272.70" text-anchor="end" font-size="15.7" font-family='"Liberation Sans", sans-serif' fill="#000" textLength="19.20" lengthAdjust="spacingAndGlyphs">25</text>
<line x1="757.85" y1="466.80" x2="757.85" y2="472.30" stroke="#000" stroke-width="1.25"/>
<text x="757.85" y="490.40" text-anchor="middle" font-size="15.7" font-family='"Liberation Sans", sans-serif' fill="#000" textLength="9.6" lengthAdjust="spacingAndGlyphs">0</text>
<line x1="860.75" y1="466.80" x2="860.75" y2="472.30" stroke="#000" stroke-width="1.25"/>
<text x="860.75" y="490.40" text-anchor="middle" font-size="15.7" font-family='"Liberation Sans", sans-serif' fill="#000" textLength="9.6" lengthAdjust="spacingAndGlyphs">5</text>
<text x="779.35" y="292.50" font-size="15.7" font-family='"Liberation Sans", sans-serif' fill="#000" textLength="151.4" lengthAdjust="spacingAndGlyphs">Phase angle: 1.6 pi</text>
<clipPath id="cp9"><rect x="980.30" y="264.60" width="185.70" height="202.20"/></clipPath>
<g clip-path="url(#cp9)">
<polygon points="980.3,347.1 989.2,347.1 996.6,348.4 1007.7,349.0 1015.2,347.1 1024.5,345.3 1030.0,344.3 1031.9,341.6 1033.8,342.1 1037.5,342.5 1039.3,347.1 1042.1,340.6 1044.0,336.9 1045.8,336.9 1047.7,343.4 1050.5,342.5 1052.3,345.3 1057.9,347.1 1061.6,351.8 1067.2,361.1 1072.8,366.6 1078.0,371.5 1083.6,373.4 1099.3,380.5 1109.5,384.0 1116.7,387.6 1121.4,391.2 1123.8,398.3 1127.4,401.9 1131.0,404.3 1134.5,407.9 1136.9,411.4 1139.3,413.8 1142.9,421.0 1144.0,428.1 1145.0,440.0 1145.3,470.0 1144.8,470.0 1144.0,463.8 1142.9,451.9 1140.5,442.4 1135.7,435.2 1132.1,434.0 1129.8,431.7 1126.2,435.2 1122.6,436.4 1119.0,441.2 1116.7,440.0 1109.5,436.4 1100.0,435.2 1083.6,429.7 1078.0,430.3 1072.8,434.0 1069.1,437.7 1065.4,443.3 1062.6,445.1 1060.7,441.4 1058.9,442.3 1057.0,430.3 1054.2,430.3 1052.3,427.5 1050.5,428.4 1048.3,427.5 1047.1,440.5 1045.8,440.5 1044.0,431.2 1043.1,395.9 1041.2,373.6 1039.9,372.6 1039.3,392.2 1037.9,392.2 1037.1,382.9 1035.6,384.7 1033.8,389.4 1031.0,388.4 1029.1,376.4 1024.5,373.6 1016.1,368.0 1015.2,365.7 1007.7,362.9 996.6,359.2 989.2,357.3 980.3,356.4" fill="#0478ba" stroke="#0478ba" stroke-width="0.8" stroke-linejoin="round"/>
<polygon points="1144.3,260.0 1147.8,260.0 1147.8,422.5 1146.0,425.0 1144.3,422.5" fill="#0478ba" stroke="#0478ba" stroke-width="0.8" stroke-linejoin="round"/>
<path d="M980.30,295.30 C981.77,295.63 984.83,296.32 989.10,297.30 C993.37,298.28 1000.32,299.63 1005.90,301.20 C1011.48,302.77 1017.97,305.32 1022.60,306.70 C1027.23,308.08 1030.17,308.57 1033.70,309.50 C1037.23,310.43 1041.65,312.02 1043.80,312.30 C1045.95,312.58 1045.48,310.92 1046.60,311.20 C1047.72,311.48 1047.82,312.88 1050.50,314.00 C1053.18,315.12 1059.92,316.70 1062.70,317.90 C1065.48,319.10 1064.60,319.82 1067.20,321.20 C1069.80,322.58 1074.58,324.25 1078.30,326.20 C1082.02,328.15 1086.22,330.85 1089.50,332.90 C1092.78,334.95 1095.48,336.73 1098.00,338.50 C1100.52,340.27 1102.83,342.10 1104.60,343.50 C1106.37,344.90 1106.38,344.78 1108.60,346.90 C1110.82,349.02 1114.82,352.80 1117.90,356.20 C1120.98,359.60 1124.32,363.43 1127.10,367.30 C1129.88,371.17 1132.43,375.22 1134.60,379.40 C1136.77,383.58 1138.67,388.63 1140.10,392.40 C1141.53,396.17 1142.25,398.57 1143.20,402.00 C1144.15,405.43 1145.18,409.00 1145.80,413.00 C1146.42,417.00 1146.63,421.67 1146.90,426.00 C1147.17,430.33 1147.25,432.50 1147.40,439.00 C1147.55,445.50 1147.70,459.83 1147.80,465.00 C1147.90,470.17 1147.97,469.17 1148.00,470.00 L1145.20,470.00 C1145.20,469.17 1145.27,470.17 1145.20,465.00 C1145.13,459.83 1144.95,445.50 1144.80,439.00 C1144.65,432.50 1144.78,430.33 1144.30,426.00 C1143.82,421.67 1143.12,417.00 1141.90,413.00 C1140.68,409.00 1138.48,404.83 1137.00,402.00 C1135.52,399.17 1134.65,399.15 1133.00,396.00 C1131.35,392.85 1129.62,387.42 1127.10,383.10 C1124.58,378.78 1120.98,373.82 1117.90,370.10 C1114.82,366.38 1110.82,363.28 1108.60,360.80 C1106.38,358.32 1107.13,357.50 1104.60,355.20 C1102.07,352.90 1095.92,348.95 1093.40,347.00 C1090.88,345.05 1092.02,345.10 1089.50,343.50 C1086.98,341.90 1082.02,339.25 1078.30,337.40 C1074.58,335.55 1070.92,333.98 1067.20,332.40 C1063.48,330.82 1059.72,329.30 1056.00,327.90 C1052.28,326.50 1048.62,325.30 1044.90,324.00 C1041.18,322.70 1037.42,321.40 1033.70,320.10 C1029.98,318.80 1027.23,317.87 1022.60,316.20 C1017.97,314.53 1011.48,312.13 1005.90,310.10 C1000.32,308.07 993.37,305.40 989.10,304.00 C984.83,302.60 981.77,302.08 980.30,301.70 Z" fill="#ff7504" stroke="#ff7504" stroke-width="0.8" stroke-linejoin="round"/>
</g>
<rect x="980.30" y="264.60" width="185.70" height="202.20" fill="none" stroke="#000" stroke-width="1.25" stroke-linejoin="miter" stroke-linecap="square"/>
<line x1="974.80" y1="442.40" x2="980.30" y2="442.40" stroke="#000" stroke-width="1.25"/>
<text x="968.40" y="448.70" text-anchor="end" font-size="15.7" font-family='"Liberation Sans", sans-serif' fill="#000" textLength="9.60" lengthAdjust="spacingAndGlyphs">5</text>
<line x1="974.80" y1="398.40" x2="980.30" y2="398.40" stroke="#000" stroke-width="1.25"/>
<text x="968.40" y="404.70" text-anchor="end" font-size="15.7" font-family='"Liberation Sans", sans-serif' fill="#000" textLength="19.20" lengthAdjust="spacingAndGlyphs">10</text>
<line x1="974.80" y1="354.40" x2="980.30" y2="354.40" stroke="#000" stroke-width="1.25"/>
<text x="968.40" y="360.70" text-anchor="end" font-size="15.7" font-family='"Liberation Sans", sans-serif' fill="#000" textLength="19.20" lengthAdjust="spacingAndGlyphs">15</text>
<line x1="974.80" y1="310.40" x2="980.30" y2="310.40" stroke="#000" stroke-width="1.25"/>
<text x="968.40" y="316.70" text-anchor="end" font-size="15.7" font-family='"Liberation Sans", sans-serif' fill="#000" textLength="19.20" lengthAdjust="spacingAndGlyphs">20</text>
<line x1="974.80" y1="266.40" x2="980.30" y2="266.40" stroke="#000" stroke-width="1.25"/>
<text x="968.40" y="272.70" text-anchor="end" font-size="15.7" font-family='"Liberation Sans", sans-serif' fill="#000" textLength="19.20" lengthAdjust="spacingAndGlyphs">25</text>
<line x1="980.30" y1="466.80" x2="980.30" y2="472.30" stroke="#000" stroke-width="1.25"/>
<text x="980.30" y="490.40" text-anchor="middle" font-size="15.7" font-family='"Liberation Sans", sans-serif' fill="#000" textLength="9.6" lengthAdjust="spacingAndGlyphs">0</text>
<line x1="1083.20" y1="466.80" x2="1083.20" y2="472.30" stroke="#000" stroke-width="1.25"/>
<text x="1083.20" y="490.40" text-anchor="middle" font-size="15.7" font-family='"Liberation Sans", sans-serif' fill="#000" textLength="9.6" lengthAdjust="spacingAndGlyphs">5</text>
<text x="1001.80" y="292.50" font-size="15.7" font-family='"Liberation Sans", sans-serif' fill="#000" textLength="151.4" lengthAdjust="spacingAndGlyphs">Phase angle: 1.8 pi</text>
<text x="611" y="520.8" text-anchor="middle" font-size="18.8" font-family='"Liberation Sans", sans-serif' fill="#000" textLength="32.6" lengthAdjust="spacingAndGlyphs">t/yr</text>
<g transform="translate(30.1,256.3) rotate(-90)"><text x="0" y="0" font-size="20.3" font-family='"Liberation Sans", sans-serif' font-style="italic" fill="#000">r/R<tspan font-size="14.2" dx="1.2" dy="4.1">S</tspan></text></g>
</svg>
</body></html>
